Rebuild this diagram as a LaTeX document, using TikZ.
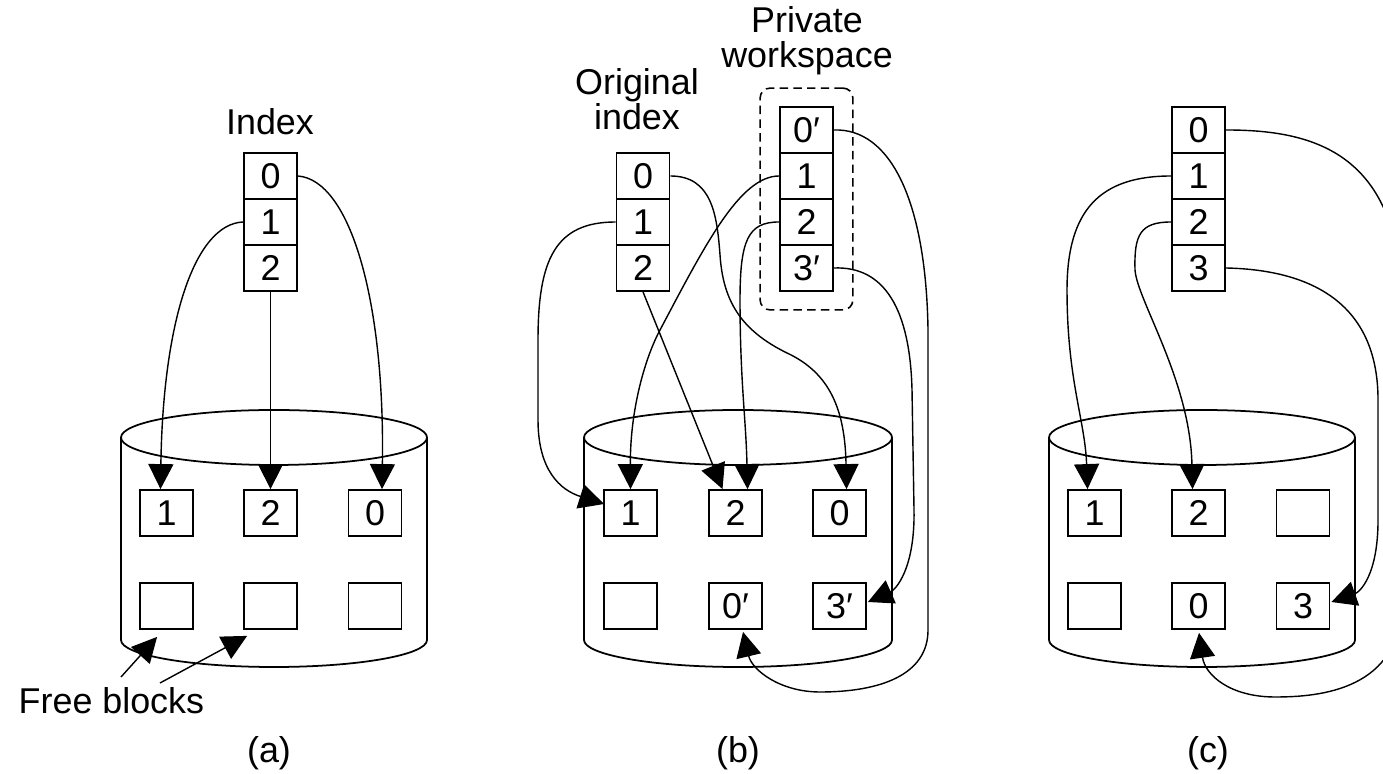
\documentclass[tikz,border=0pt]{standalone}
\usepackage{fontspec}
\setmainfont{Liberation Sans}
\usetikzlibrary{arrows.meta,calc,fit}
\newcommand{\drawdisk}[2]{%
  \draw[cyl] (#1,437.5) ellipse[x radius=#2, y radius=27.5];
  \draw[cyl] (#1-#2,437.5) -- (#1-#2,640)
    .. controls (#1-#2,654.9) and (#1-0.5523*#2,667) .. (#1,667)
    .. controls (#1+0.5523*#2,667) and (#1+#2,654.9) .. (#1+#2,640)
    -- (#1+#2,437.5);}
\begin{document}
\begin{tikzpicture}[x=0.01cm,y=-0.01cm,
  cell/.style={draw, line width=0.5pt, minimum width=0.53cm, minimum height=0.46cm, inner sep=0pt, font=\fontsize{10.2}{12}\selectfont},
  lbl/.style={font=\fontsize{10.2}{12}\selectfont, inner sep=0pt},
  conn/.style={line width=0.4pt, -{Triangle[length=2.5mm,width=2.5mm]}},
  cyl/.style={line width=0.5pt},
  wsbox/.style={draw, line width=0.45pt, dash pattern=on 2.4pt off 1.5pt, rounded corners=1mm}]
\useasboundingbox (0,0) rectangle (1383,774);

% ---------------- (a) ----------------
\drawdisk{274}{153}
\node[lbl, anchor=base] (idxa) at (270,135) {Index};
\node[cell] (a0) at (270.5,176) {0};
\node[cell] (a1) at (270.5,222) {1};
\node[cell] (a2) at (270.5,268) {2};
\node[cell] (aB1) at (166.5,513) {1};
\node[cell] (aB2) at (270.5,513) {2};
\node[cell] (aB0) at (375,513) {0};
\node[cell] (aF1) at (166.5,606) {};
\node[cell] (aF2) at (270.5,606) {};
\node[cell] (aF3) at (375,606) {};
\draw[conn] (a0.east) .. controls (350,180) and (385,300) .. ($(aB0.north)+(7,0)$);
\draw[conn] (a1.west) .. controls (195,224) and (163,320) .. ($(aB1.north)+(-6,0)$);
\draw[conn] (a2.south) -- (aB2.north);
\node[lbl, anchor=base west] (free) at (18,713) {Free blocks};
\coordinate (fs1) at (121,677);
\coordinate (fs2) at (160,683);
\draw[conn] (fs1) -- ($(aF1.south west)+(18,7)$);
\draw[conn] (fs2) -- ($(aF2.south west)+(4,6)$);
\node[lbl, anchor=base] (capa) at (269,762) {(a)};

% ---------------- (b) ----------------
\drawdisk{738}{154}
\node[lbl, anchor=base] (origt1) at (637,95) {Original};
\node[lbl, anchor=base] (origt2) at (637,130) {index};
\node[lbl, anchor=base] (privt1) at (807,33) {Private};
\node[lbl, anchor=base] (privt2) at (807,68) {workspace};
\node[cell] (b0) at (643,176) {0};
\node[cell] (b1) at (643,222) {1};
\node[cell] (b2) at (643,268) {2};
\node[cell] (p0) at (806.5,130) {0′};
\node[cell] (p1) at (806.5,176) {1};
\node[cell] (p2) at (806.5,222) {2};
\node[cell] (p3) at (806.5,268) {3′};
\node[wsbox, fit=(p0)(p3), inner xsep=0.19cm, inner ysep=0.18cm] (ws) {};
\node[cell] (bB1) at (630.5,513) {1};
\node[cell] (bB2) at (735.5,513) {2};
\node[cell] (bB0) at (839.5,513) {0};
\node[cell] (bF1) at (630.5,606) {};
\node[cell] (bN0) at (735.5,606) {0′};
\node[cell] (bN3) at (839.5,606) {3′};
\draw[conn] (b0.east) .. controls (712,176) and (717,215) .. (720,255)
  .. controls (723,300) and (740,330) .. (787,353)
  .. controls (830,373) and (845,410) .. ($(bB0.north)+(7,0)$);
\draw[conn] (b1.west) .. controls (555,222) and (538,260) .. (538,340) -- (538,420)
  .. controls (538,470) and (560,490) .. ($(bB1.west)+(1,-9)$);
\draw[conn] (b2.south) -- ($(bB2.north)+(-13,0)$);
\draw[conn] (p1.west) .. controls (740,176) and (705,245) .. (660,330)
  .. controls (645,358) and (630,410) .. (bB1.north);
\draw[conn] (p2.west) .. controls (748,222) and (740,240) .. (740,300)
  .. controls (740,380) and (746,420) .. ($(bB2.north)+(12,0)$);
\draw[conn] (p0.east) .. controls (890,128) and (926,200) .. (928,330) -- (928,630)
  .. controls (928,675) and (880,692) .. (820,692)
  .. controls (780,692) and (752,670) .. ($(bN0.south)+(7.5,2)$);
\draw[conn] (p3.east) .. controls (885,266) and (910,310) .. (912,390) -- (914,510)
  .. controls (915,570) and (895,590) .. ($(bN3.east)+(1,-4)$);
\node[lbl, anchor=base] (capb) at (738,762) {(b)};

% ---------------- (c) ----------------
\drawdisk{1202}{153}
\node[cell] (c0) at (1198.5,130) {0};
\node[cell] (c1) at (1198.5,176) {1};
\node[cell] (c2) at (1198.5,222) {2};
\node[cell] (c3) at (1198.5,268) {3};
\node[cell] (cB1) at (1094.5,513) {1};
\node[cell] (cB2) at (1198.5,513) {2};
\node[cell] (cF3) at (1303,513) {};
\node[cell] (cF1) at (1094.5,606) {};
\node[cell] (cN0) at (1198.5,606) {0};
\node[cell] (cN3) at (1303,606) {3};
\draw[conn] (c0.east) .. controls (1310,130) and (1398,150) .. (1402,300) -- (1402,600)
  .. controls (1402,690) and (1320,697) .. (1275,697)
  .. controls (1230,697) and (1205,675) .. ($(cN0.south)+(0.5,3)$);
\draw[conn] (c1.west) .. controls (1100,176) and (1067,210) .. (1067,290)
  .. controls (1067,380) and (1085,420) .. ($(cB1.north)+(-7,0)$);
\draw[conn] (c2.west) .. controls (1140,222) and (1134,235) .. (1135,270)
  .. controls (1137,300) and (1190,380) .. ($(cB2.north)+(-6,0)$);
\draw[conn] (c3.east) .. controls (1320,270) and (1378,310) .. (1378,400) -- (1378,520)
  .. controls (1378,575) and (1360,592) .. ($(cN3.east)+(1,-4)$);
\node[lbl, anchor=base] (capc) at (1208,762) {(c)};
\end{tikzpicture}
\end{document}
